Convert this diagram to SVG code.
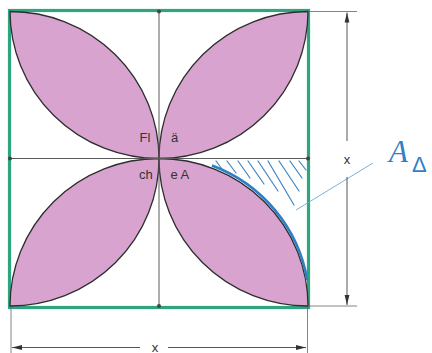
<svg xmlns="http://www.w3.org/2000/svg" width="432" height="353" viewBox="0 0 432 353">
<defs>
<style>
.petal{fill:#d9a3d0;stroke:#2e2e2e;stroke-width:1.3}
.axis{stroke:#5a5a5a;stroke-width:1;fill:none}
.dim{stroke:#444;stroke-width:0.9;fill:none}
.ext{stroke:#666;stroke-width:0.8;fill:none}
.lbl{font-family:"Liberation Sans",Arial,sans-serif;font-size:13px;fill:#333}
.hatch{stroke:#3d86c6;stroke-width:1.2;fill:none;stroke-linecap:round}
.dot{fill:#444}
</style>
<marker id="arr" viewBox="0 0 10 6" refX="10" refY="3" markerWidth="10" markerHeight="6" markerUnits="userSpaceOnUse" orient="auto">
<path d="M0,0.6 L10,3 L0,5.4 Z" fill="#333"/>
</marker>
</defs>
<rect width="432" height="353" fill="#fff"/>
<g id="frame">
<rect x="9.5" y="10.5" width="299" height="297" fill="none" stroke="#2ea57f" stroke-width="3.2"/>
</g>
<g id="petal-tl"><path class="petal" d="M10,11.5 A149,147.5 0 0 0 159,158.5 A149,147.5 0 0 0 10,11.5 Z"/></g>
<g id="petal-tr"><path class="petal" d="M159,158.5 A149,147.5 0 0 0 308,11.5 A149,147.5 0 0 0 159,158.5 Z"/></g>
<g id="petal-bl"><path class="petal" d="M10,306 A149,147.5 0 0 0 159,158.5 A149,147.5 0 0 0 10,306 Z"/></g>
<g id="petal-br"><path class="petal" d="M159,158.5 A149,147.5 0 0 1 308,306 A149,147.5 0 0 1 159,158.5 Z"/></g>
<g id="axes">
<line class="axis" x1="159" y1="11.5" x2="159" y2="306"/>
<line class="axis" x1="10" y1="158.5" x2="308" y2="158.5"/>
<circle class="dot" cx="159" cy="11.5" r="2"/>
<circle class="dot" cx="10" cy="158.5" r="2"/>
<circle class="dot" cx="308" cy="158.5" r="2"/>
<circle class="dot" cx="159" cy="306" r="2"/>
</g>
<g id="center-labels">
<text class="lbl" x="139.5" y="142">Fl</text>
<text class="lbl" x="171" y="142">ä</text>
<text class="lbl" x="139" y="179">ch</text>
<text class="lbl" x="170.5" y="179">e A</text>
</g>
<g id="hatched-area">
<path d="M212,165.5 A150.5,149 0 0 1 307.2,280" fill="none" stroke="#2f7fc4" stroke-width="2.6"/>
<line class="hatch" x1="216" y1="161" x2="222" y2="169"/>
<line class="hatch" x1="227" y1="161" x2="236" y2="173"/>
<line class="hatch" x1="238" y1="161" x2="250" y2="178"/>
<line class="hatch" x1="248" y1="161" x2="264" y2="184"/>
<line class="hatch" x1="258" y1="161" x2="278" y2="191"/>
<line class="hatch" x1="268" y1="161" x2="294" y2="205"/>
<line class="hatch" x1="279" y1="161" x2="299" y2="191"/>
<line class="hatch" x1="290" y1="161" x2="302" y2="178"/>
<line class="hatch" x1="299" y1="161" x2="306" y2="170"/>
</g>
<g id="leader">
<line x1="296" y1="210" x2="373" y2="163" stroke="#6ea8d8" stroke-width="0.9"/>
</g>
<g id="label-A">
<text x="389" y="162" font-family="'Liberation Serif',serif" font-style="italic" font-size="31" fill="#2f7fc4">A</text>
<text x="412" y="172" font-family="'Liberation Sans',sans-serif" font-size="22" fill="#2f7fc4">Δ</text>
</g>
<g id="dimensions">
<line class="ext" x1="308" y1="11.5" x2="357" y2="11.5"/>
<line class="ext" x1="308" y1="306" x2="357" y2="306"/>
<line class="dim" x1="347" y1="141" x2="347" y2="12.5" marker-end="url(#arr)"/>
<line class="dim" x1="347" y1="177" x2="347" y2="305" marker-end="url(#arr)"/>
<text class="lbl" x="347" y="163.5" text-anchor="middle" font-size="14">x</text>
<line class="ext" x1="11" y1="307" x2="11" y2="353"/>
<line class="ext" x1="307.5" y1="307" x2="307.5" y2="353"/>
<line class="dim" x1="140" y1="347.5" x2="12" y2="347.5" marker-end="url(#arr)"/>
<line class="dim" x1="168" y1="347.5" x2="306" y2="347.5" marker-end="url(#arr)"/>
<text class="lbl" x="155" y="351.5" text-anchor="middle" font-size="13">x</text>
</g>
</svg>
